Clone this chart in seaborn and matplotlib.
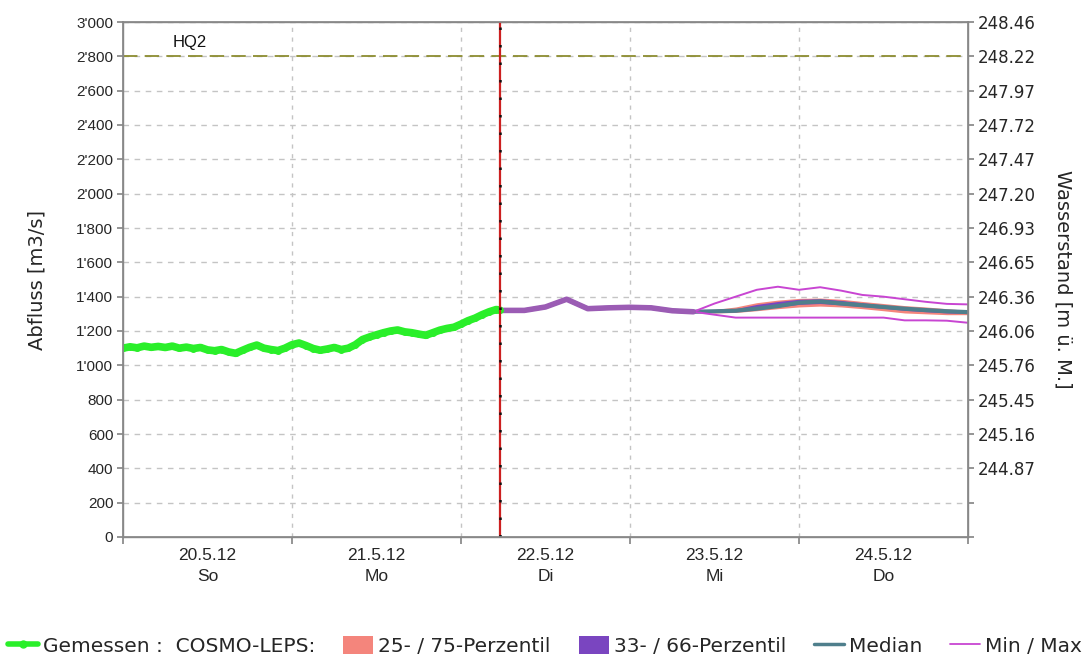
import matplotlib
matplotlib.use("Agg")
import matplotlib.pyplot as plt
import seaborn as sns
import numpy as np
import pandas as pd
from matplotlib.lines import Line2D
from matplotlib.patches import Patch

# ---------------- data ----------------
# hours since 20.5.12 00:00
meas_hours = [0, 1, 2, 3, 4, 5, 6, 7, 8, 9, 10, 11, 12, 13, 14, 15, 16, 17, 18, 19,
              20, 21, 22, 23, 24, 25, 26, 27, 28, 29, 30, 31, 32, 33, 34, 35, 36, 37,
              38, 39, 40, 41, 42, 43, 44, 45, 46, 47, 48, 49, 50, 51, 52, 53, 53.5]
meas_vals = [1100, 1108, 1102, 1112, 1105, 1110, 1104, 1112, 1100, 1106, 1098, 1104,
             1090, 1085, 1092, 1078, 1070, 1088, 1105, 1118, 1100, 1092, 1086, 1100,
             1120, 1130, 1115, 1098, 1088, 1095, 1104, 1092, 1100, 1120, 1150, 1165,
             1178, 1190, 1200, 1206, 1195, 1190, 1182, 1175, 1190, 1205, 1215, 1222,
             1240, 1260, 1275, 1295, 1312, 1325, 1322]

fc_hours = [53.5, 57, 60, 63, 66, 69, 72, 75, 78, 81, 84, 87, 90, 93, 96, 99, 102,
            105, 108, 111, 114, 117, 120]
common = [1320, 1320, 1340, 1385, 1330, 1335, 1338, 1335, 1318, 1312]
fc_min = common + [1295, 1278, 1278, 1278, 1278, 1278, 1278, 1278, 1278, 1262, 1262, 1260, 1248]
fc_p25 = common + [1305, 1308, 1318, 1330, 1340, 1345, 1340, 1330, 1318, 1305, 1300, 1295, 1295]
fc_p33 = common + [1310, 1312, 1325, 1340, 1355, 1360, 1352, 1342, 1332, 1320, 1312, 1305, 1302]
fc_med = common + [1315, 1318, 1330, 1345, 1365, 1372, 1360, 1350, 1340, 1330, 1322, 1315, 1310]
fc_p66 = common + [1320, 1330, 1355, 1372, 1385, 1388, 1378, 1365, 1352, 1340, 1332, 1322, 1316]
fc_p75 = common + [1325, 1340, 1365, 1380, 1390, 1392, 1385, 1372, 1360, 1348, 1340, 1330, 1320]
fc_max = common + [1360, 1400, 1440, 1458, 1440, 1455, 1435, 1410, 1400, 1385, 1370, 1358, 1355]

forecast_start = 53.5
hq2 = 2800

day_labels = ["20.5.12\nSo", "21.5.12\nMo", "22.5.12\nDi", "23.5.12\nMi", "24.5.12\nDo"]
left_ticks = [0, 200, 400, 600, 800, 1000, 1200, 1400, 1600, 1800, 2000, 2200, 2400,
              2600, 2800, 3000]
left_labels = ["0", "200", "400", "600", "800", "1'000", "1'200", "1'400", "1'600",
               "1'800", "2'000", "2'200", "2'400", "2'600", "2'800", "3'000"]
right_ticks = [400, 600, 800, 1000, 1200, 1400, 1600, 1800, 2000, 2200, 2400, 2600,
               2800, 3000]
right_labels = ["244.87", "245.16", "245.45", "245.76", "246.06", "246.36", "246.65",
                "246.93", "247.20", "247.47", "247.72", "247.97", "248.22", "248.46"]

# ---------------- style ----------------
sns.set_theme(style="white")
plt.rcParams['font.family'] = ['Liberation Sans', 'DejaVu Sans']

fig = plt.figure(figsize=(10.88, 6.58), dpi=100)
ax = fig.add_axes([123 / 1088, 1 - 537 / 658, (968 - 123) / 1088, (537 - 22) / 658])

meas = pd.DataFrame({"h": meas_hours, "v": meas_vals})
fc = pd.DataFrame({"h": fc_hours, "min": fc_min, "p25": fc_p25, "p33": fc_p33,
                   "med": fc_med, "p66": fc_p66, "p75": fc_p75, "max": fc_max})

# grid
for y in left_ticks[1:]:
    ax.axhline(y, color="#c4c4c4", lw=1, ls=(0, (4, 4)), zorder=0)
for d in [24, 48, 72, 96]:
    ax.axvline(d, color="#c4c4c4", lw=1, ls=(0, (3, 4)), zorder=0)

# HQ2
ax.axhline(hq2, color="#8c8c30", lw=1.3, ls=(0, (8, 4)), zorder=1)
ax.text(7, 2838, "HQ2", fontsize=12, color="#111111", va="bottom", ha="left")

# bands
ax.fill_between(fc["h"], fc["p25"], fc["p75"], color="#f4857c", lw=0, zorder=2)
ax.fill_between(fc["h"], fc["p33"], fc["p66"], color="#7a45c0", lw=0, zorder=3)

sns.lineplot(data=fc, x="h", y="med", ax=ax, color="#4f7f8c", lw=3, zorder=4)
sns.lineplot(data=fc, x="h", y="min", ax=ax, color="#c845d2", lw=1.4, zorder=5)
sns.lineplot(data=fc, x="h", y="max", ax=ax, color="#c845d2", lw=1.4, zorder=5)
# common part of forecast (all members identical)
sns.lineplot(data=fc.iloc[:len(common)], x="h", y="med", ax=ax, color="#9b5cb4", lw=4, zorder=6)

# measured
sns.lineplot(data=meas, x="h", y="v", ax=ax, color="#2aef2a", lw=5.5, marker="o",
             markersize=5, markeredgewidth=0, zorder=7)

# forecast start
ax.axvline(forecast_start, color="#cc2020", lw=1.6, zorder=8)
ax.axvline(forecast_start, color="#111111", lw=1.8, ls=(0, (1, 6)), zorder=9)

ax.set_xlim(0, 120)
ax.set_ylim(0, 3000)
ax.set_xticks([0, 24, 48, 72, 96, 120])
ax.set_xticklabels([])
ax.set_xticks([12, 36, 60, 84, 108], minor=True)
ax.set_xticklabels(day_labels, minor=True, fontsize=12.5, linespacing=1.45)
ax.tick_params(axis="x", which="major", length=5, color="#888888", direction="out", bottom=True)
ax.tick_params(axis="x", which="minor", length=0, pad=8)
ax.set_yticks(left_ticks)
ax.set_yticklabels(left_labels, fontsize=11)
ax.tick_params(axis="y", length=4, color="#888888", direction="out", left=True, pad=3)
ax.set_xlabel("")
ax.set_ylabel("Abfluss [m3/s]", fontsize=14, family="DejaVu Sans")
ax.yaxis.set_label_coords(-0.09, 0.5)
for s in ax.spines.values():
    s.set_color("#888888")
    s.set_linewidth(1)

ax2 = ax.twinx()
ax2.set_ylim(0, 3000)
ax2.set_yticks(left_ticks)
lab_map = dict(zip(right_ticks, right_labels))
ax2.set_yticklabels([lab_map.get(t, "") for t in left_ticks], fontsize=12,
                    family="DejaVu Sans")
ax2.tick_params(axis="y", length=4, color="#888888", direction="out", right=True, pad=3)
ax2.set_ylabel("Wasserstand [m ü. M.]", fontsize=14, rotation=-90, va="center",
               family="DejaVu Sans")
ax2.yaxis.set_label_coords(1.113, 0.5)
for s in ax2.spines.values():
    s.set_color("#888888")
ax2.grid(False)

handles = [
    Line2D([0], [0], color="#2aef2a", lw=4, marker="o", markersize=5),
    Patch(facecolor="#f4857c", edgecolor="none"),
    Patch(facecolor="#7a45c0", edgecolor="none"),
    Line2D([0], [0], color="#4f7f8c", lw=2.5),
    Line2D([0], [0], color="#c845d2", lw=1.3),
]
labels = ["Gemessen :  COSMO-LEPS:", "25- / 75-Perzentil", "33- / 66-Perzentil",
          "Median", "Min / Max"]
fig.legend(handles, labels, loc="lower left",
           bbox_to_anchor=(8 / 1088, 1 - 656 / 658, 1074 / 1088, 0.06),
           mode="expand", ncol=5, borderaxespad=0, borderpad=0,
           frameon=False, prop={"family": "DejaVu Sans", "size": 14.5},
           handlelength=1.5, handleheight=1.0, handletextpad=0.25, columnspacing=0.3)

fig.savefig("out.png", dpi=100, facecolor="white")
